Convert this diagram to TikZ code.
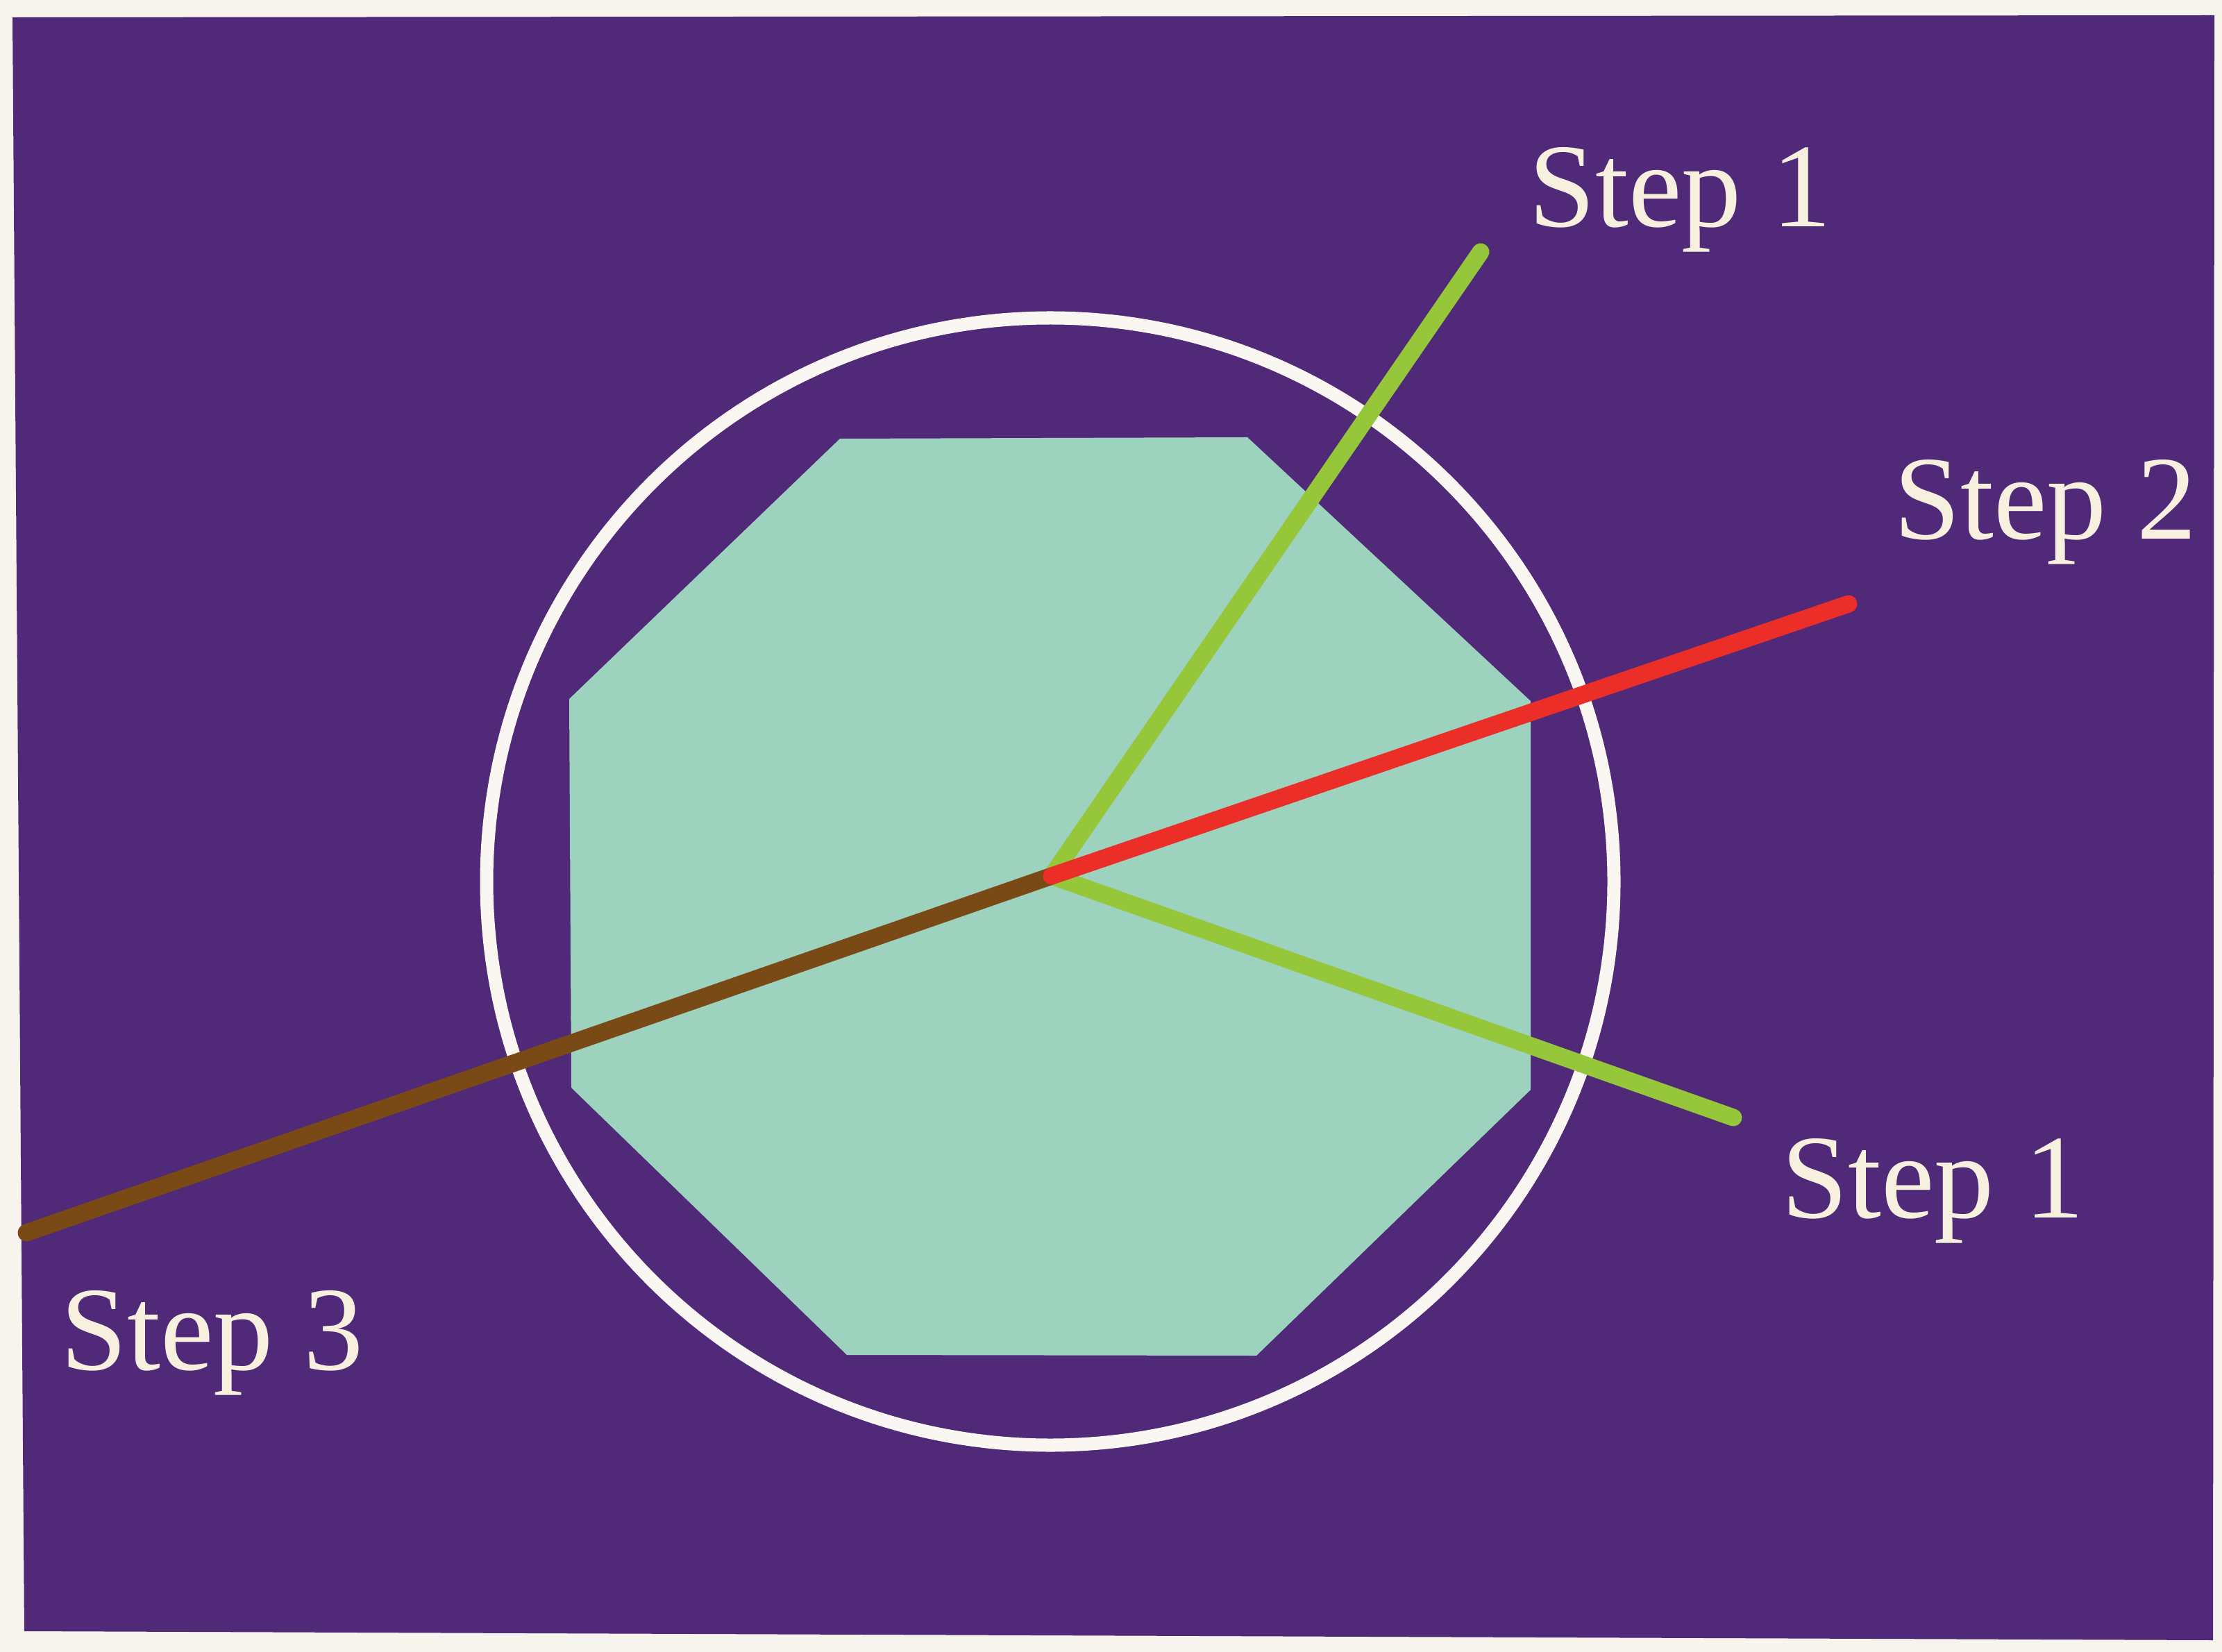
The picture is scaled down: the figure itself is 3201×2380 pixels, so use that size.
\documentclass[tikz,border=0pt]{standalone}
\usepackage{fontspec}
\setmainfont{Liberation Serif}
\usepackage{xcolor}
\usepackage{tikz}
\definecolor{PapelClaro}{RGB}{246,244,236}
\definecolor{MoradoFondo}{RGB}{80,41,120}
\definecolor{VerdeAgua}{RGB}{156,210,190}
\definecolor{BlancoAnillo}{RGB}{250,246,242}
\definecolor{VerdePaso}{RGB}{150,198,58}
\definecolor{RojoPaso}{RGB}{236,46,40}
\definecolor{CafePaso}{RGB}{122,74,22}
\definecolor{CremaTexto}{RGB}{248,240,222}
\tikzset{
  rayo/.style={line width=0.25cm,line cap=round},
  etiqueta/.style={anchor=base west,inner sep=0pt,text=CremaTexto,
    font=\fontsize{49pt}{58pt}\selectfont}
}

\begin{document}
\begin{tikzpicture}[x=0.01cm,y=-0.01cm]
  \useasboundingbox (0,0) rectangle (3201,2380);
  \fill[PapelClaro] (0,0) rectangle (3201,2380);
  \fill[MoradoFondo] (18,25)--(3190,22)--(3188,2363)--(35,2350)--cycle;
  % octagon and ring
  \fill[VerdeAgua] (1210,632)--(1797,630)--(2205,1010)--(2205,1570)--(1810,1953)
    --(1220,1952)--(823,1567)--(820,1007)--cycle;
  \draw[BlancoAnillo,line width=0.19cm] (1513,1270) circle (812);
  % rays
  \coordinate (hub) at (1515,1262);
  \coordinate (verdeA) at (2133,363);
  \coordinate (verdeB) at (2497,1610);
  \coordinate (rojo) at (2663,870);
  \coordinate (cafe) at (38,1776);
  \draw[rayo,VerdePaso] (hub)--(verdeA);
  \draw[rayo,VerdePaso] (hub)--(verdeB);
  \draw[rayo,CafePaso] (hub)--(cafe);
  \draw[rayo,RojoPaso] (hub)--(rojo);
  % labels
  \node[etiqueta] (paso1a) at (2202,327) {Step 1};
  \node[etiqueta] (paso2) at (2728,777) {Step 2};
  \node[etiqueta] (paso1b) at (2566,1754) {Step 1};
  \node[etiqueta] (paso3) at (87,1973) {Step 3};
\end{tikzpicture}
\end{document}
